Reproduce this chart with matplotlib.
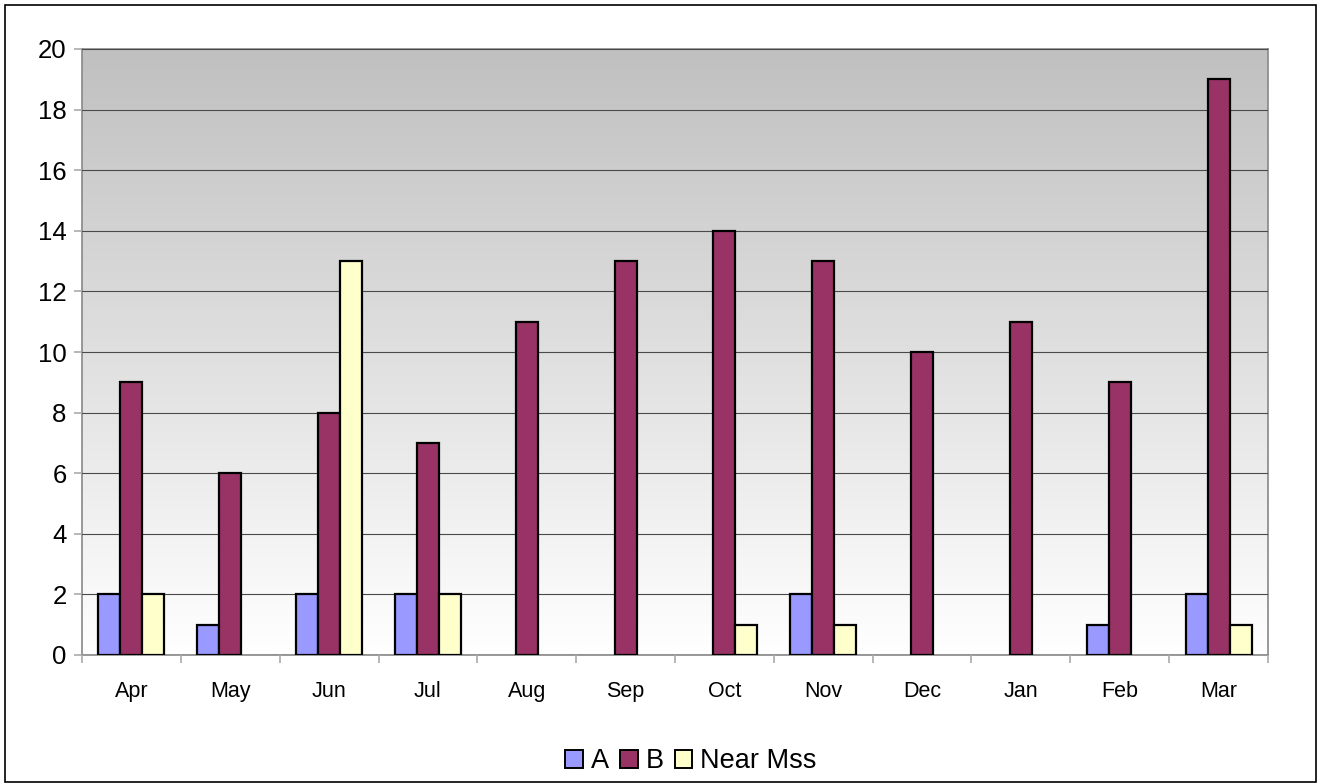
import numpy as np
import matplotlib.pyplot as plt
from matplotlib.patches import Rectangle, Patch

months = ["Apr", "May", "Jun", "Jul", "Aug", "Sep", "Oct", "Nov", "Dec", "Jan", "Feb", "Mar"]
series_a = [2, 1, 2, 2, 0, 0, 0, 2, 0, 0, 1, 2]
series_b = [9, 6, 8, 7, 11, 13, 14, 13, 10, 11, 9, 19]
near_miss = [2, 0, 13, 2, 0, 0, 1, 1, 0, 0, 0, 1]

names = ["A", "B", "Near Mss"]
colors = ["#9999FF", "#993366", "#FFFFCC"]

plt.rcParams["font.family"] = ["Liberation Sans", "DejaVu Sans"]

fig = plt.figure(figsize=(13.19, 7.84), dpi=100)
ax = fig.add_axes([82 / 1319, 1 - 655 / 784, (1268 - 82) / 1319, (655 - 49) / 784])

n = len(months)
x = np.arange(n)
width = 0.223

# gradient plot area background (white at bottom -> grey at top)
grad = np.linspace(0, 1, 256).reshape(-1, 1)
bg_cmap = plt.matplotlib.colors.LinearSegmentedColormap.from_list("bg", ["#FFFFFF", "#C0C0C0"])
ax.imshow(grad, extent=(-0.5, n - 0.5, 0, 20), aspect="auto", origin="lower",
          cmap=bg_cmap, zorder=0)

for i, (vals, col) in enumerate(zip([series_a, series_b, near_miss], colors)):
    vals = np.array(vals)
    keep = vals > 0
    ax.bar(x[keep] + (i - 1) * width, vals[keep], width, color=col,
           edgecolor="black", linewidth=1.6, zorder=3)

ax.set_xlim(-0.5, n - 0.5)
ax.set_ylim(0, 20)
ax.set_yticks(range(0, 21, 2))
ax.yaxis.grid(True, color="#4a4a4a", linewidth=0.8, zorder=1)
ax.set_axisbelow(False)

ax.set_xticks(np.arange(-0.5, n, 1))
ax.set_xticklabels([])
ax.set_xticks(x, minor=True)
ax.set_xticklabels(months, minor=True, fontsize=15.5)
ax.tick_params(axis="x", which="minor", length=0, pad=19)
ax.tick_params(axis="x", which="major", length=5.5, color="#aaaaaa", width=1.2)
ax.tick_params(axis="y", length=6, color="#aaaaaa", width=1.2, labelsize=18.5, pad=5)

for s in ax.spines.values():
    s.set_color("#888888")
    s.set_linewidth(1.2)

handles = [Patch(facecolor=c, edgecolor="black", linewidth=1.4) for c in colors]
fig.legend(handles, names, loc="center", bbox_to_anchor=(0.524, 0.029), ncol=3,
           frameon=False, fontsize=19.5, handlelength=0.65, handleheight=0.65,
           handletextpad=0.3, columnspacing=0.4)

fig.patches.append(Rectangle((5 / 1319, 2 / 784), 1311 / 1319, 777 / 784,
                             transform=fig.transFigure, fill=False,
                             edgecolor="black", linewidth=1.2))

fig.savefig("out.png", dpi=100)
